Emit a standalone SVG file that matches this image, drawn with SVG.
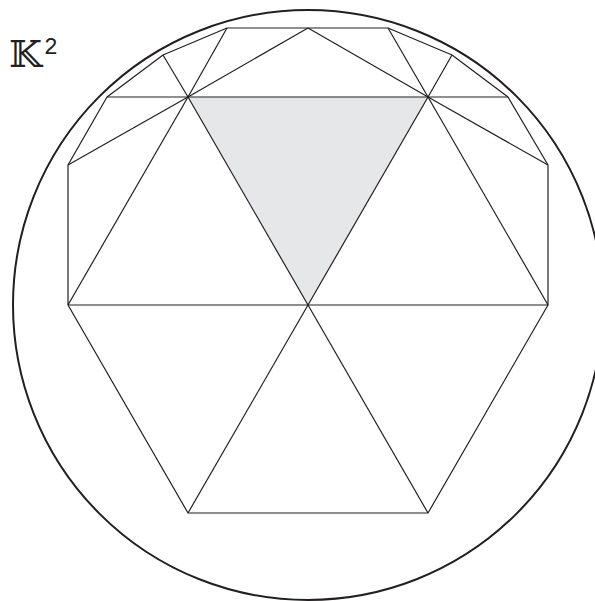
<svg xmlns="http://www.w3.org/2000/svg" width="595" height="601" viewBox="0 0 595 601">
<style>
.e{stroke:#231f20;stroke-width:1.2;fill:none;stroke-linejoin:round}
.c{stroke:#231f20;stroke-width:2;fill:none}
.lbl{font-family:"DejaVu Serif","Liberation Serif",serif;fill:#231f20}
.sup{font-family:"Liberation Mono",monospace}
</style>
<rect width="595" height="601" fill="#fff"/>
<g id="shade"><polygon points="188,97 428,97 308,305" fill="#e6e7e8"/></g>
<g id="disk"><circle cx="308" cy="305" r="295" class="c"/></g>
<g id="edges">
<polyline class="e" points="68,305 68,165 107,97 163,55 227,28 388,28 452,55 508,97 548,165 548,305 428,513 188,513 68,305"/>
<line class="e" x1="68" y1="305" x2="548" y2="305"/>
<line class="e" x1="107" y1="97" x2="508" y2="97"/>
<line class="e" x1="188" y1="97" x2="308" y2="305"/>
<line class="e" x1="428" y1="97" x2="308" y2="305"/>
<line class="e" x1="188" y1="97" x2="68" y2="305"/>
<line class="e" x1="428" y1="97" x2="548" y2="305"/>
<line class="e" x1="188" y1="513" x2="308" y2="305"/>
<line class="e" x1="428" y1="513" x2="308" y2="305"/>
<line class="e" x1="188" y1="97" x2="163" y2="55"/>
<line class="e" x1="188" y1="97" x2="227" y2="28"/>
<line class="e" x1="188" y1="97" x2="308" y2="28"/>
<line class="e" x1="188" y1="97" x2="68" y2="165"/>
<line class="e" x1="428" y1="97" x2="452" y2="55"/>
<line class="e" x1="428" y1="97" x2="388" y2="28"/>
<line class="e" x1="428" y1="97" x2="308" y2="28"/>
<line class="e" x1="428" y1="97" x2="548" y2="165"/>
</g>
<g id="label">
<text class="lbl" x="9" y="67" font-size="38">𝕂<tspan class="sup" x="44" y="54" font-size="23">2</tspan></text>
</g>
</svg>
